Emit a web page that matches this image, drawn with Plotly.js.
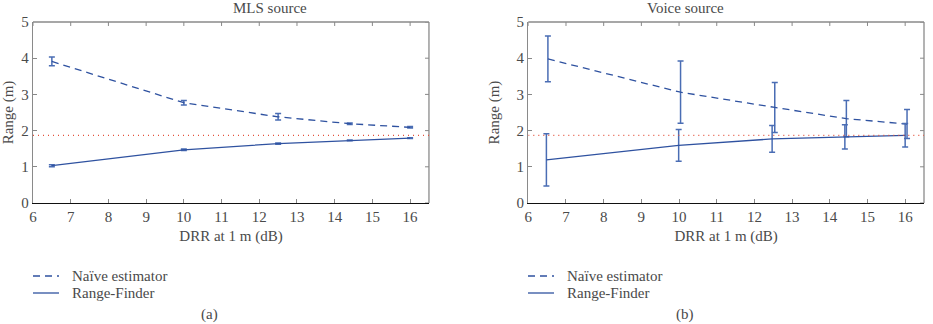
<!DOCTYPE html>
<html>
<head>
<meta charset="utf-8">
<script src="https://cdn.plot.ly/plotly-3.0.1.min.js"></script>
<style>
  html, body { margin: 0; padding: 0; background: #fff; }
  #chart { width: 933px; height: 324px; }
</style>
</head>
<body>
<div id="chart"></div>
<script>
// DRR at 1 m (dB)
const drr = [6.5, 10, 12.5, 14.4, 16];

// (a) MLS source
const mlsNaive = [3.91, 2.77, 2.38, 2.19, 2.09];
const mlsNaiveErr = [0.12, 0.06, 0.09, 0.02, 0.02];
const mlsRF = [1.03, 1.47, 1.64, 1.73, 1.79];
const mlsRFErr = [0.03, 0.02, 0.02, 0.01, 0.01];

// (b) Voice source (the two estimators are nudged apart horizontally)
const voiceNaiveX = [6.52, 10.04, 12.54, 14.44, 16.05];
const voiceNaive = [3.98, 3.06, 2.64, 2.33, 2.18];
const voiceNaiveErr = [0.63, 0.86, 0.69, 0.50, 0.40];
const voiceRFX = [6.48, 9.99, 12.47, 14.40, 16.0];
const voiceRF = [1.19, 1.59, 1.77, 1.83, 1.87];
const voiceRFErr = [0.72, 0.44, 0.37, 0.335, 0.325];

// true source distance (m)
const trueRange = 1.87;

const xTicks = [6, 7, 8, 9, 10, 11, 12, 13, 14, 15, 16];
const yTicks = [0, 1, 2, 3, 4, 5];
const seriesNames = ['Naïve estimator', 'Range-Finder'];

const lineColor = '#2f52a0';
const barColor = '#4a6db4';
const textColor = '#4a4a4a';
const serif = '"Liberation Serif", "DejaVu Serif", serif';
const dashStyle = '7px,5px';

function series(x, y, err, dash, xa, ya, name) {
  return {
    x: x, y: y, type: 'scatter', mode: 'lines', name: name,
    xaxis: xa, yaxis: ya, showlegend: false,
    line: { color: lineColor, width: 1.3, dash: dash },
    error_y: { type: 'data', array: err, visible: true, color: barColor, thickness: 1.5, width: 3 },
    hoverinfo: 'skip'
  };
}

const traces = [
  series(drr, mlsNaive, mlsNaiveErr, dashStyle, 'x', 'y', seriesNames[0]),
  series(drr, mlsRF, mlsRFErr, 'solid', 'x', 'y', seriesNames[1]),
  series(voiceNaiveX, voiceNaive, voiceNaiveErr, dashStyle, 'x2', 'y2', seriesNames[0]),
  series(voiceRFX, voiceRF, voiceRFErr, 'solid', 'x2', 'y2', seriesNames[1])
];

function xAxis(domain, anchor) {
  return {
    domain: domain, anchor: anchor, range: [6, 16.5],
    tickvals: xTicks, ticks: 'inside', ticklen: 4, tickcolor: '#888',
    showline: true, linecolor: '#111', linewidth: 1.3,
    showgrid: false, zeroline: false,
    tickfont: { family: serif, size: 15, color: textColor },
    title: { text: 'DRR at 1 m (dB)', font: { family: serif, size: 15, color: textColor }, standoff: 6 }
  };
}
function yAxis(anchor) {
  return {
    domain: [0, 1], anchor: anchor, range: [0, 5],
    tickvals: yTicks, ticks: 'inside', ticklen: 4, tickcolor: '#888',
    showline: true, linecolor: '#8a8a8a', linewidth: 1.3,
    showgrid: false, zeroline: false,
    tickfont: { family: serif, size: 15, color: textColor },
    title: { text: 'Range (m)', font: { family: serif, size: 15, color: textColor }, standoff: 13 }
  };
}

const dL = [0, 0.4444];
const dR = [0.5559, 1];

function frame(xref, yref) {
  // grey top/right border with inward ticks, plus the true-distance reference line
  const s = [
    { type: 'line', xref: xref + ' domain', yref: yref + ' domain', x0: 0, x1: 1, y0: 1, y1: 1, line: { color: '#8a8a8a', width: 1.3 } },
    { type: 'line', xref: xref + ' domain', yref: yref + ' domain', x0: 1, x1: 1, y0: 0, y1: 1, line: { color: '#8a8a8a', width: 1.3 } },
    { type: 'line', xref: xref, yref: yref, x0: 6, x1: 16.5, y0: trueRange, y1: trueRange, line: { color: '#e4503a', width: 1.2, dash: '1px,4px' } }
  ];
  xTicks.forEach(function (t) {
    s.push({ type: 'line', xref: xref, yref: yref + ' domain', x0: t, x1: t, y0: 1, y1: 0.978, line: { color: '#888', width: 1 } });
  });
  yTicks.forEach(function (t) {
    s.push({ type: 'line', xref: xref + ' domain', yref: yref, x0: 1, x1: 0.99, y0: t, y1: t, line: { color: '#888', width: 1 } });
  });
  return s;
}

// Legend key below each panel: line sample + label, in paper coordinates
const plotH = 181, paperW = 891;
function legendBlock(leftPx) {
  const shapes = [], anns = [];
  const rows = [{ dash: dashStyle, y: 276 }, { dash: 'solid', y: 293 }];
  rows.forEach(function (r, i) {
    const yp = (203 - r.y) / plotH;
    shapes.push({ type: 'line', xref: 'paper', yref: 'paper',
      x0: (leftPx - 33) / paperW, x1: (leftPx - 33 + 26) / paperW, y0: yp, y1: yp,
      line: { color: lineColor, width: 1.3, dash: r.dash } });
    anns.push({ text: seriesNames[i], xref: 'paper', yref: 'paper',
      x: (leftPx - 33 + 37) / paperW, y: yp, xanchor: 'left', yanchor: 'middle',
      showarrow: false, font: { family: serif, size: 15, color: textColor } });
  });
  return { shapes: shapes, anns: anns };
}
const legA = legendBlock(33);
const legB = legendBlock(528);

const layout = {
  width: 933, height: 324,
  margin: { l: 33, r: 9, t: 22, b: 121 },
  paper_bgcolor: '#fff', plot_bgcolor: '#fff',
  showlegend: false,
  xaxis: xAxis(dL, 'y'),
  yaxis: yAxis('x'),
  xaxis2: xAxis(dR, 'y2'),
  yaxis2: yAxis('x2'),
  shapes: frame('x', 'y').concat(frame('x2', 'y2'), legA.shapes, legB.shapes),
  annotations: [
    { text: 'MLS source', xref: 'paper', yref: 'paper', x: 0.2222, y: 1, yanchor: 'bottom', yshift: 4, showarrow: false, font: { family: serif, size: 15, color: textColor } },
    { text: 'Voice source', xref: 'paper', yref: 'paper', x: 0.778, y: 1, yanchor: 'bottom', yshift: 4, showarrow: false, font: { family: serif, size: 15, color: textColor } },
    { text: '(a)', xref: 'paper', yref: 'paper', x: 0.186, y: 0, yanchor: 'middle', yshift: -111, showarrow: false, font: { family: serif, size: 15, color: textColor } },
    { text: '(b)', xref: 'paper', yref: 'paper', x: 0.744, y: 0, yanchor: 'middle', yshift: -111, showarrow: false, font: { family: serif, size: 15, color: textColor } }
  ].concat(legA.anns, legB.anns)
};

Plotly.newPlot('chart', traces, layout, { staticPlot: true, displayModeBar: false });
</script>
</body>
</html>
